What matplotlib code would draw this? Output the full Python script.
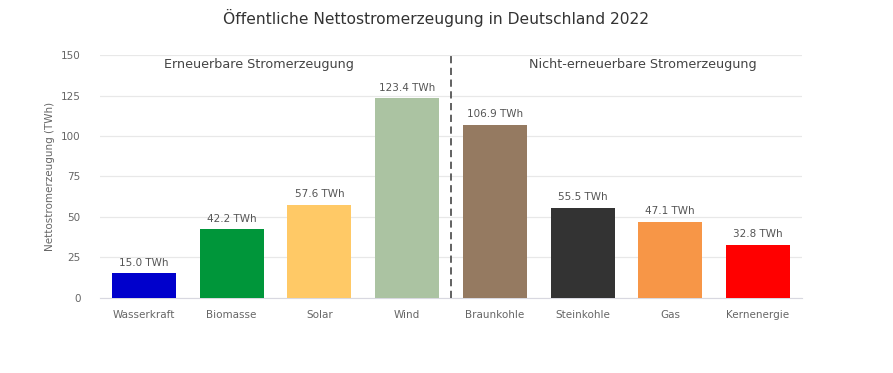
import matplotlib.pyplot as plt
import numpy as np

# Nettostromerzeugung 2022 (TWh)
kategorien = ['Wasserkraft', 'Biomasse', 'Solar', 'Wind',
              'Braunkohle', 'Steinkohle', 'Gas', 'Kernenergie']
werte = [15.0, 42.2, 57.6, 123.4, 106.9, 55.5, 47.1, 32.8]
farben = ['#0000cc', '#00963a', '#ffc966', '#abc3a2',
          '#957a61', '#333333', '#f79647', '#ff0000']
y_ticks = [0, 25, 50, 75, 100, 125, 150]


def main():
    fig = plt.figure(figsize=(8.93, 3.73), dpi=100)
    ax = fig.add_axes([0.112, 0.202, 0.786, 0.650])

    x = np.arange(len(kategorien))
    ax.bar(x, werte, width=0.73, color=farben, zorder=3)

    for xi, v in zip(x, werte):
        ax.text(xi, v + 3.5, f'{v:.1f} TWh', ha='center', va='bottom',
                fontsize=7.5, color='#555555')

    # trennlinie erneuerbar / nicht-erneuerbar
    ax.axvline(3.5, color='#555555', linestyle=(0, (4, 2.5)), linewidth=1.3, zorder=4)
    ax.text(1.31, 144, 'Erneuerbare Stromerzeugung', ha='center', va='center',
            fontsize=9.2, color='#444444')
    ax.text(5.69, 144, 'Nicht-erneuerbare Stromerzeugung', ha='center', va='center',
            fontsize=9.2, color='#444444')

    ax.set_xlim(-0.5, len(kategorien) - 0.5)
    ax.set_ylim(0, 150)
    ax.set_yticks(y_ticks)
    ax.set_xticks(x)
    ax.set_xticklabels(kategorien)
    ax.tick_params(axis='both', length=0, labelsize=7.5, colors='#666666')
    ax.tick_params(axis='x', pad=9)
    ax.tick_params(axis='y', pad=14)
    ax.grid(axis='y', color='#e8e8e8', linewidth=0.9, zorder=0)
    for s in ['top', 'right', 'left']:
        ax.spines[s].set_visible(False)
    ax.spines['bottom'].set_color('#d8d8e0')
    ax.set_ylabel('Nettostromerzeugung (TWh)', fontsize=7.5, color='#666666', labelpad=4)

    fig.suptitle('Öffentliche Nettostromerzeugung in Deutschland 2022',
                 x=0.488, y=0.975, fontsize=11.2, color='#333333')

    fig.savefig('out.png', dpi=100, facecolor='white')


if __name__ == '__main__':
    main()
